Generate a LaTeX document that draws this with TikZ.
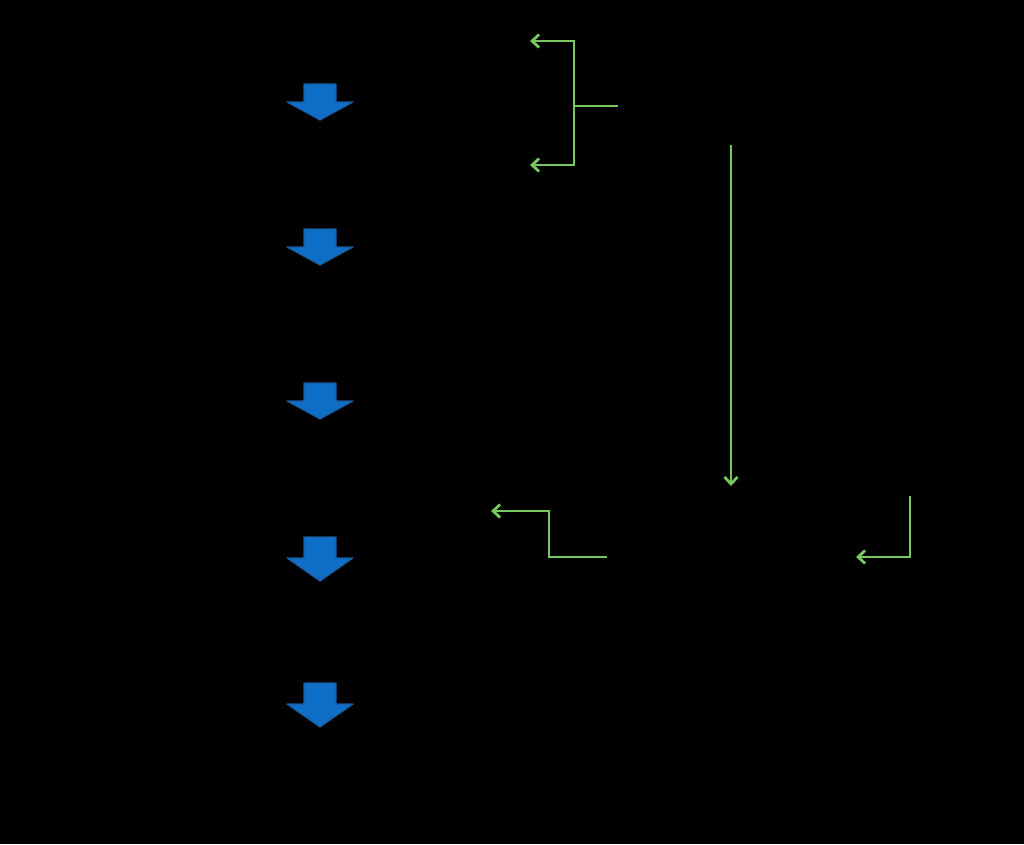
\documentclass[tikz,border=0pt]{standalone}
\usetikzlibrary{arrows.meta}
\definecolor{arrowblue}{HTML}{0F6FC6}
\definecolor{arrowedge}{HTML}{1A5C9E}
\definecolor{linkgreen}{HTML}{77C860}
\tikzset{
  blockarrow/.style={fill=arrowblue, draw=arrowedge, line width=1.2pt, line join=round},
  link/.style={draw=linkgreen, line width=2.8pt, line join=miter},
  linkarrow/.style={link, -{Straight Barb[length=7pt,width=13pt,line width=2.8pt]}}
}
\begin{document}
\begin{tikzpicture}[x=1pt,y=-1pt]
\fill[black] (0,0) rectangle (1024,844);
\useasboundingbox (0,0) rectangle (1024,844);
% blue block arrows: top, shoulder, tip
\foreach \t/\s/\p in {84/102/120, 229/247/265, 383/401/419, 537/558/581, 683/704/727}{
  \draw[blockarrow] (304,\t) -- (336,\t) -- (336,\s) -- (353,\s) -- (320,\p) -- (287,\s) -- (304,\s) -- cycle;
}
% coordinates for green connectors
\coordinate (bj) at (574,106);
\coordinate (bsrc) at (618,106);
\coordinate (btop) at (574,41);
\coordinate (bbot) at (574,165);
\coordinate (ta) at (530,41);
\coordinate (tb) at (530,165);
\coordinate (vs) at (731,145);
\coordinate (ve) at (731,486);
\coordinate (zs) at (607,557);
\coordinate (zb) at (549,557);
\coordinate (zt) at (549,511);
\coordinate (ze) at (491,511);
\coordinate (rs) at (910,496);
\coordinate (rc) at (910,557);
\coordinate (re) at (856,557);
\draw[link] (bsrc) -- (bj);
\draw[linkarrow] (bj) -- (btop) -- (ta);
\draw[linkarrow] (bj) -- (bbot) -- (tb);
\draw[linkarrow] (vs) -- (ve);
\draw[linkarrow] (zs) -- (zb) -- (zt) -- (ze);
\draw[linkarrow] (rs) -- (rc) -- (re);
\end{tikzpicture}
\end{document}
